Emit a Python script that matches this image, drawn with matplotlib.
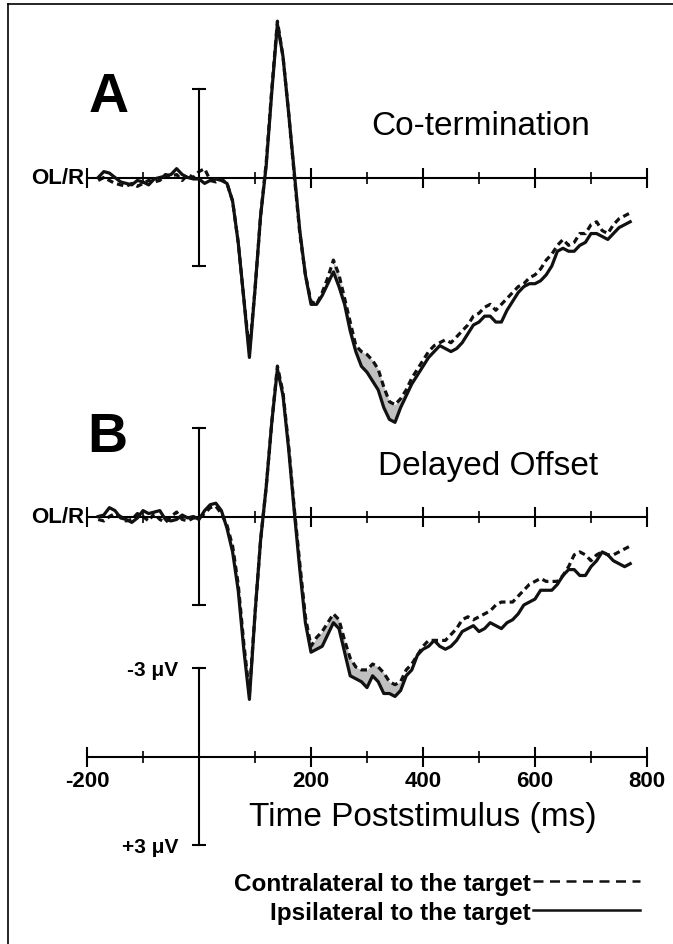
import numpy as np
import matplotlib
matplotlib.use("Agg")
from matplotlib import pyplot as plt
from matplotlib.lines import Line2D

plt.rcParams['font.family'] = ['Liberation Sans', 'DejaVu Sans']

# time axis (ms), 10 ms steps
t = np.arange(-180, 771, 10)

# Panel A: Co-termination (uV, negative plotted upward)
ipsi_a = [0.0, -0.2, -0.15, 0.0, 0.15, 0.2, 0.25, 0.1, 0.15, 0.25, 0.05, 0.0,
          -0.05, -0.1, -0.3, -0.1, 0.0, 0.05, 0.05, 0.2, 0.1, 0.05, 0.1,
          0.2, 0.8, 2.2, 4.1, 6.1, 3.8, 1.3, -0.4, -2.9, -5.2, -4.1, -2.2, -0.2, 1.8, 3.3,
          4.3, 4.3, 4.0, 3.6, 3.2, 3.7, 4.3, 5.2, 5.9, 6.4, 6.6, 6.9, 7.2, 7.8, 8.2, 8.3,
          7.8, 7.4, 7.0, 6.7, 6.4, 6.1, 5.9, 5.7, 5.8, 5.9, 5.8, 5.6, 5.3, 5.0, 4.9, 4.7,
          4.7, 4.9, 4.9, 4.5, 4.2, 3.9, 3.7, 3.6, 3.6, 3.5, 3.3, 3.0, 2.5, 2.4, 2.5, 2.5,
          2.3, 2.2, 1.9, 1.9, 2.0, 2.1, 1.9, 1.7, 1.6, 1.5]
contra_a = [0.1, 0.0, 0.1, 0.2, 0.25, 0.3, 0.2, 0.3, 0.2, 0.1, 0.15, 0.1,
            -0.1, -0.05, -0.1, 0.1, -0.1, 0.0, -0.2, -0.3, 0.1, 0.15, 0.05,
            0.2, 0.8, 2.2, 4.1, 5.9, 3.8, 1.3, -0.5, -3.0, -5.3, -4.1, -2.2, -0.1, 1.9, 3.3,
            4.2, 4.3, 3.9, 3.4, 2.8, 3.3, 4.1, 4.9, 5.7, 5.9, 6.0, 6.2, 6.5, 7.1, 7.6, 7.7,
            7.5, 7.2, 6.8, 6.5, 6.2, 5.9, 5.7, 5.6, 5.5, 5.6, 5.4, 5.2, 5.0, 4.7, 4.6, 4.4,
            4.3, 4.5, 4.3, 4.1, 3.9, 3.7, 3.6, 3.4, 3.3, 3.1, 2.8, 2.6, 2.3, 2.1, 2.3, 2.2,
            1.9, 1.9, 1.6, 1.5, 1.8, 1.9, 1.6, 1.4, 1.3, 1.2]

# Panel B: Delayed Offset
ipsi_b = [0.0, -0.05, -0.3, -0.2, 0.05, 0.1, 0.2, 0.05, -0.2, -0.1, -0.15, -0.2,
          0.1, 0.15, 0.1, -0.05, 0.05, 0.0, 0.1, -0.2, -0.4, -0.45, -0.2,
          0.4, 1.2, 2.5, 4.5, 6.2, 3.3, 0.8, -1.0, -3.2, -5.0, -4.1, -2.3, -0.2, 1.8, 3.6,
          4.6, 4.5, 4.4, 4.0, 3.6, 3.8, 4.6, 5.4, 5.5, 5.6, 5.8, 5.4, 5.6, 6.0, 6.0, 6.1,
          5.9, 5.4, 5.2, 4.7, 4.5, 4.4, 4.2, 4.4, 4.5, 4.4, 4.2, 3.9, 3.8, 3.7, 3.9, 3.8,
          3.6, 3.7, 3.8, 3.6, 3.5, 3.3, 3.0, 2.9, 2.8, 2.5, 2.5, 2.5, 2.3, 2.0, 1.8, 1.8,
          2.0, 2.0, 1.7, 1.5, 1.2, 1.3, 1.5, 1.6, 1.7, 1.6]
contra_b = [0.1, 0.15, 0.0, -0.1, 0.0, 0.15, 0.1, -0.1, 0.0, 0.15, -0.1, 0.1,
            0.2, 0.0, -0.15, 0.1, 0.15, 0.05, 0.05, -0.1, -0.3, -0.35, -0.1,
            0.3, 1.0, 2.3, 4.3, 6.0, 3.3, 0.8, -1.0, -3.2, -5.1, -4.2, -2.4, -0.3, 1.6, 3.4,
            4.4, 4.1, 3.9, 3.6, 3.3, 3.5, 4.2, 4.8, 5.1, 5.2, 5.2, 5.0, 5.1, 5.3, 5.6, 5.7,
            5.6, 5.2, 5.0, 4.7, 4.4, 4.2, 4.2, 4.2, 4.2, 4.0, 3.8, 3.5, 3.4, 3.5, 3.4, 3.3,
            3.2, 3.0, 2.9, 2.9, 2.9, 2.7, 2.5, 2.3, 2.2, 2.1, 2.2, 2.2, 2.2, 2.0, 1.7, 1.3,
            1.2, 1.3, 1.5, 1.3, 1.2, 1.3, 1.3, 1.2, 1.1, 1.0]

# windows where the difference is shaded
shade_a = (235, 382)
shade_b = (195, 378)

titles = ['Co-termination', 'Delayed Offset']
letters = ['A', 'B']
xticks_major = [-200, 200, 400, 600, 800]
xticks_minor = [-100, 100, 300, 500, 700]
xtick_labels = ['-200', '200', '400', '600', '800']

W, H = 673, 945
fig = plt.figure(figsize=(W / 100, H / 100), dpi=100)

px_per_ms = 0.56
x0_px = 199
px_per_uv = 29.5
xlim = (-x0_px / px_per_ms, (W - x0_px) / px_per_ms)


def make_axes(base_px):
    ax = fig.add_axes([0, 0, 1, 1])
    ax.patch.set_alpha(0)
    ax.set_xlim(*xlim)
    ax.set_ylim((H - base_px) / px_per_uv, -base_px / px_per_uv)
    for s in ['top', 'right']:
        ax.spines[s].set_visible(False)
    ax.spines['bottom'].set_position(('data', 0))
    ax.spines['left'].set_position(('data', 0))
    ax.spines['bottom'].set_bounds(-200, 800)
    ax.spines['left'].set_bounds(-3, 3)
    for s in ['bottom', 'left']:
        ax.spines[s].set_linewidth(1.5)
    ax.set_xticks(xticks_major)
    ax.set_xticks(xticks_minor, minor=True)
    ax.set_yticks([-3, 3])
    ax.tick_params(axis='x', which='major', direction='inout', length=14, width=1.5)
    ax.tick_params(axis='x', which='minor', direction='inout', length=8.5, width=1.2)
    ax.tick_params(axis='y', direction='inout', length=10, width=1.5)
    return ax


def px(x, y):
    return x / W, 1 - y / H


for i, (base, ipsi, contra, win) in enumerate([(178.5, ipsi_a, contra_a, shade_a),
                                                (517.5, ipsi_b, contra_b, shade_b)]):
    ax = make_axes(base)
    ax.set_xticklabels([])
    ax.set_yticklabels([])
    ipsi = np.array(ipsi)
    contra = np.array(contra)
    mask = (t >= win[0]) & (t <= win[1])
    ax.fill_between(t, ipsi, contra, where=mask, color='#c0c0c0', lw=0, zorder=1)
    ax.plot(t, contra, color='#111111', lw=2.3, ls=(0, (2.0, 1.3)), zorder=2,
            solid_joinstyle='round')
    ax.plot(t, ipsi, color='#111111', lw=2.3, zorder=3, solid_joinstyle='round')
    ax.text(-205, 0, 'OL/R', ha='right', va='center', fontsize=16, fontweight='bold')

fig.text(*px(89, 112), 'A', fontsize=40, fontweight='bold', ha='left', va='baseline')
fig.text(*px(87, 452), 'B', fontsize=40, fontweight='bold', ha='left', va='baseline')
fig.text(*px(590, 135), titles[0], fontsize=24, ha='right', va='baseline')
fig.text(*px(598, 475), titles[1], fontsize=24, ha='right', va='baseline')

# calibration / time axis
ax = make_axes(757.5)
ax.set_xticklabels(xtick_labels, fontsize=16, fontweight='bold')
ax.tick_params(axis='x', which='major', pad=3)
ax.set_yticklabels(['-3 \u03bcV', '+3 \u03bcV'], fontsize=15, fontweight='bold')
ax.tick_params(axis='y', pad=10)
fig.text(*px(423, 826), 'Time Poststimulus (ms)', fontsize=24, ha='center', va='baseline')

handles = [Line2D([], [], color='#111111', lw=1.8, ls=(0, (4.0, 2.6))),
           Line2D([], [], color='#111111', lw=1.8)]
labels = ['Contralateral to the target', 'Ipsilateral to the target']
ax.legend(handles, labels, markerfirst=False, frameon=False, loc='lower right',
          bbox_to_anchor=px(640, 925), bbox_transform=fig.transFigure,
          borderaxespad=0, borderpad=0, handlelength=4.4, handletextpad=0.1,
          labelspacing=0.25,
          prop={'family': 'Liberation Sans', 'weight': 'bold', 'size': 17.5})

# frame (top and left edges)
fig.add_artist(Line2D([8 / W, 1], [1 - 5 / H, 1 - 5 / H], color='black', lw=1.2))
fig.add_artist(Line2D([8 / W, 8 / W], [0, 1 - 5 / H], color='black', lw=1.2))

fig.savefig('out.png', dpi=100)
